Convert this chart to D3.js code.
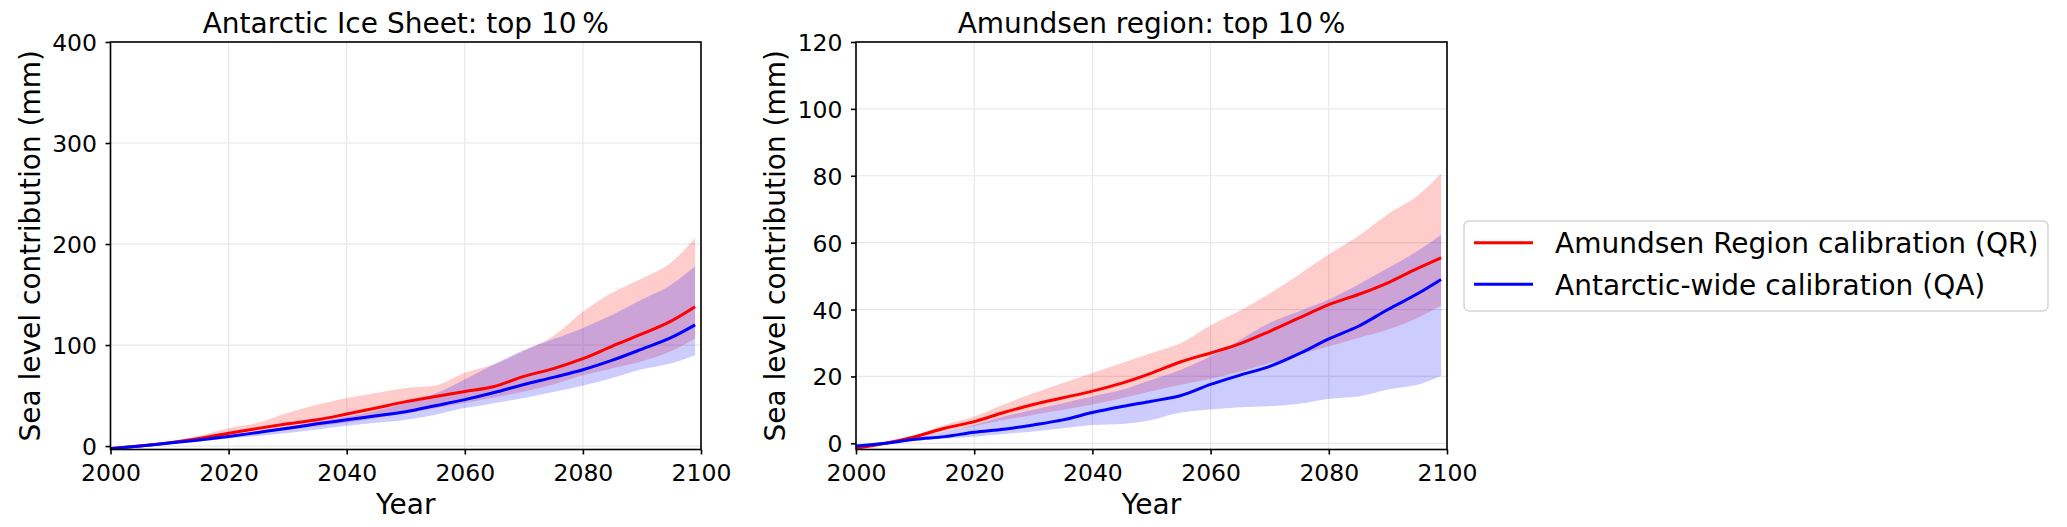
<!DOCTYPE html>
<html>
<head>
<meta charset="utf-8">
<script src="https://cdn.jsdelivr.net/npm/d3@7"></script>
<style>
  html, body { margin: 0; padding: 0; background: #fff; }
  svg { display: block; }
  text { font-family: "DejaVu Sans", sans-serif; fill: #000; }
</style>
</head>
<body>
<svg id="chart" width="2067" height="527"></svg>
<script>
// ---------------- DATA ----------------
const years = [2000, 2005, 2010, 2015, 2020, 2025, 2030, 2035, 2040, 2045, 2050,
               2055, 2060, 2065, 2070, 2075, 2080, 2085, 2090, 2095, 2099];

// Antarctic Ice Sheet (left panel), mm
const aisRegionMedian = [-2.5, 0, 3.3, 7.5, 12.7, 17.5, 22, 26, 31.7, 37.7, 44, 49, 54, 59, 69, 76.7, 86.5, 99, 111, 124, 138];
const aisRegionLow    = [-2.5, 0, 3, 6.5, 10, 13, 16, 19.5, 23, 27.5, 32.6, 37.5, 42.6, 48, 54, 61, 70, 77, 84, 94, 106.5];
const aisRegionHigh   = [-2.5, 0.5, 4.3, 10, 17.6, 23, 33, 41, 47.6, 52.6, 57.5, 60, 72.6, 81, 94, 109, 133, 152, 166, 182, 206];
const aisWideMedian   = [-2.5, 0, 3, 6, 9.5, 13.5, 17.6, 22, 26, 30, 34, 40, 46, 53, 61, 68, 75.5, 85, 96, 107.5, 120];
const aisWideLow      = [-3, -0.5, 2, 4.5, 7.6, 10, 13, 16.5, 20, 23, 26, 31, 37.6, 42.5, 47.6, 53.5, 60, 67.5, 76, 82, 90];
const aisWideHigh     = [-2.5, 0, 3, 7, 10.5, 14.5, 19, 24, 29, 35, 43, 52, 66, 81, 95, 106, 117, 130, 145, 160, 178];

// Amundsen region (right panel), mm
const amuRegionMedian = [-1.5, 0, 2, 4.5, 6.5, 9.2, 11.6, 13.6, 15.6, 18, 21, 24.4, 27, 29.8, 33.5, 37.5, 41.5, 44.5, 48, 52.3, 55.5];
const amuRegionLow    = [-1.5, 0, 1.5, 3.5, 5.2, 7, 8.5, 10, 11.6, 13.5, 15.6, 17.5, 19.3, 21.5, 24, 26.5, 29, 31.5, 34, 37.5, 41.2];
const amuRegionHigh   = [-1.5, 0.5, 2.5, 5.5, 8, 11.6, 15, 18, 21, 24, 27, 30, 35.3, 39.7, 44.8, 50.5, 56.5, 62, 68.5, 74, 80.6];
const amuWideMedian   = [-0.8, 0, 1.2, 2, 3.3, 4.2, 5.5, 7, 9.2, 11, 12.6, 14.3, 17.6, 20.4, 23, 26.8, 31.2, 35, 40, 44.7, 49];
const amuWideLow      = [-1.2, -0.2, 0.8, 1.4, 2, 2.8, 3.5, 4.5, 5.5, 5.8, 7, 9.2, 10.1, 10.8, 11.1, 11.8, 13.3, 14, 16.1, 17.5, 20.1];
const amuWideHigh     = [-1, 0, 1.5, 3.5, 5.5, 8, 10, 12, 14, 16, 19, 22, 26, 31, 36, 39.5, 43, 47.5, 52.4, 57.5, 62.4];

const xTicks = [2000, 2020, 2040, 2060, 2080, 2100];
const aisYTicks = [0, 100, 200, 300, 400];
const amuYTicks = [0, 20, 40, 60, 80, 100, 120];

const titles = ["Antarctic Ice Sheet: top 10\u2009%", "Amundsen region: top 10\u2009%"];
const xLabel = "Year";
const yLabel = "Sea level contribution (mm)";
const legendLabels = ["Amundsen Region calibration (QR)", "Antarctic-wide calibration (QA)"];
const seriesColors = ["#ff0000", "#0000ff"];

// ---------------- LAYOUT ----------------
const svg = d3.select("#chart");
svg.append("rect").attr("width", 2067).attr("height", 527).attr("fill", "#fff");

const panels = [
  { left: 110.5, right: 701, yDomain: [-3.4, 400], yTicks: aisYTicks, title: titles[0], ylabelX: 39.5,
    region: [aisRegionLow, aisRegionMedian, aisRegionHigh], wide: [aisWideLow, aisWideMedian, aisWideHigh] },
  { left: 856, right: 1447, yDomain: [-1.85, 120], yTicks: amuYTicks, title: titles[1], ylabelX: 784.5,
    region: [amuRegionLow, amuRegionMedian, amuRegionHigh], wide: [amuWideLow, amuWideMedian, amuWideHigh] }
];
const plotTop = 42, plotBottom = 449.5;

panels.forEach((p, i) => {
  const x = d3.scaleLinear().domain([2000, 2100]).range([p.left, p.right]);
  const y = d3.scaleLinear().domain(p.yDomain).range([plotBottom, plotTop]);
  const g = svg.append("g");

  const clipId = "clip" + i;
  g.append("clipPath").attr("id", clipId).append("rect")
    .attr("x", p.left).attr("y", plotTop).attr("width", p.right - p.left).attr("height", plotBottom - plotTop);

  // grid
  const grid = g.append("g");
  grid.selectAll("line.gx").data(xTicks).join("line").attr("class", "gx")
    .attr("x1", d => x(d)).attr("x2", d => x(d)).attr("y1", plotTop).attr("y2", plotBottom)
    .attr("stroke", "#e8e8e8").attr("stroke-width", 1.2);
  grid.selectAll("line.gy").data(p.yTicks).join("line").attr("class", "gy")
    .attr("x1", p.left).attr("x2", p.right).attr("y1", d => y(d)).attr("y2", d => y(d))
    .attr("stroke", "#e8e8e8").attr("stroke-width", 1.2);

  const plot = g.append("g").attr("clip-path", `url(#${clipId})`);
  const sets = [p.region, p.wide];
  // bands
  sets.forEach((s, k) => {
    const area = d3.area()
      .x((d, j) => x(years[j]))
      .y0((d, j) => y(s[0][j]))
      .y1((d, j) => y(s[2][j]))
      .curve(d3.curveMonotoneX);
    plot.append("path").datum(years).attr("d", area)
      .attr("fill", seriesColors[k]).attr("fill-opacity", 0.2).attr("stroke", "none");
  });
  // median lines
  sets.forEach((s, k) => {
    const line = d3.line()
      .x((d, j) => x(years[j]))
      .y((d, j) => y(s[1][j]))
      .curve(d3.curveMonotoneX);
    plot.append("path").datum(years).attr("d", line)
      .attr("fill", "none").attr("stroke", seriesColors[k]).attr("stroke-width", 3);
  });

  // axes
  const xAxis = d3.axisBottom(x).tickValues(xTicks).tickFormat(d3.format("d")).tickSize(5).tickPadding(9.5);
  const yAxis = d3.axisLeft(y).tickValues(p.yTicks).tickFormat(d3.format("d")).tickSize(5).tickPadding(8.5);
  const gx = g.append("g").attr("transform", `translate(0,${plotBottom})`).call(xAxis);
  const gy = g.append("g").attr("transform", `translate(${p.left},0)`).call(yAxis);
  [gx, gy].forEach(a => {
    a.select(".domain").remove();
    a.selectAll(".tick line").attr("stroke", "#000").attr("stroke-width", 1.6);
    a.selectAll(".tick text").attr("font-family", "DejaVu Sans").attr("font-size", 23.5).attr("fill", "#000");
  });
  gy.selectAll(".tick text").attr("dy", "0.36em");

  // frame
  g.append("rect").attr("x", p.left).attr("y", plotTop).attr("width", p.right - p.left).attr("height", plotBottom - plotTop)
    .attr("fill", "none").attr("stroke", "#000").attr("stroke-width", 1.6);

  // title and labels
  g.append("text").attr("x", (p.left + p.right) / 2).attr("y", 33)
    .attr("text-anchor", "middle").attr("font-size", 28).text(p.title);
  g.append("text").attr("x", (p.left + p.right) / 2).attr("y", 514)
    .attr("text-anchor", "middle").attr("font-size", 28).text(xLabel);
  g.append("text").attr("transform", `translate(${p.ylabelX},${(plotTop + plotBottom) / 2}) rotate(-90)`)
    .attr("text-anchor", "middle").attr("font-size", 28).text(yLabel);
});

// legend
const lg = svg.append("g");
lg.append("rect").attr("x", 1464).attr("y", 221).attr("width", 584).attr("height", 90)
  .attr("rx", 5).attr("fill", "#fff").attr("fill-opacity", 0.8)
  .attr("stroke", "#d6d6d6").attr("stroke-width", 1.5);
const rowY = [242.7, 284.3];
legendLabels.forEach((lab, k) => {
  lg.append("line").attr("x1", 1474).attr("x2", 1533).attr("y1", rowY[k]).attr("y2", rowY[k])
    .attr("stroke", seriesColors[k]).attr("stroke-width", 3);
  lg.append("text").attr("x", 1555).attr("y", rowY[k] + 10.5).attr("font-size", 28).text(lab);
});
</script>
</body>
</html>
